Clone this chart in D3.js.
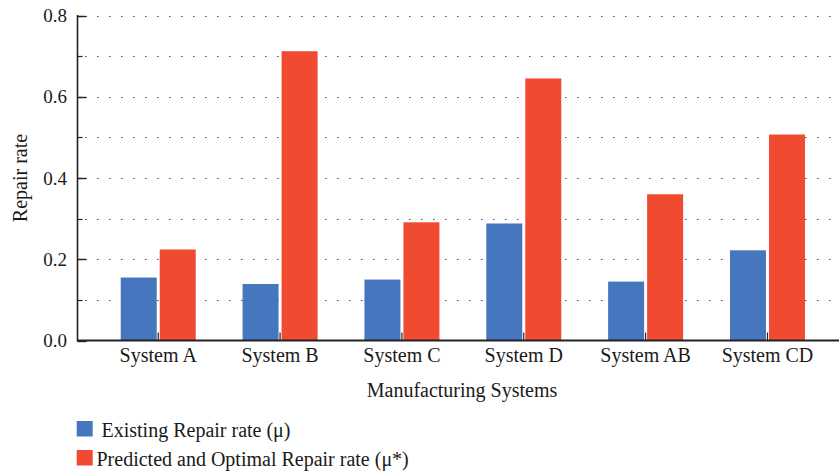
<!DOCTYPE html>
<html>
<head>
<meta charset="utf-8">
<script src="https://cdn.jsdelivr.net/npm/d3@7"></script>
<style>
  html, body { margin: 0; padding: 0; background: #fff; }
  svg { display: block; }
  text { font-family: "Liberation Serif", "DejaVu Serif", serif; fill: #1a1a1a; }
</style>
</head>
<body>
<svg id="chart" width="839" height="472"></svg>
<script>
const categories = ["System A", "System B", "System C", "System D", "System AB", "System CD"];
const seriesNames = ["Existing Repair rate (μ)", "Predicted and Optimal Repair rate (μ*)"];
const existing = [0.155, 0.139, 0.150, 0.288, 0.145, 0.222];
const optimal  = [0.224, 0.712, 0.291, 0.645, 0.360, 0.507];
const colors = ["#4677BE", "#F04A31"];
const majorTicks = [0.0, 0.2, 0.4, 0.6, 0.8];
const minorTicks = [0.1, 0.2, 0.3, 0.4, 0.5, 0.6, 0.7, 0.8];
const yLabel = "Repair rate";
const xLabel = "Manufacturing Systems";

const svg = d3.select("#chart");
const axisX = 77.5, axisY = 340.5;

const x = d3.scaleBand().domain(categories).range([97.3, 828.4]).padding(0);
const y = d3.scaleLinear().domain([0, 0.8]).range([340.5, 15.5]);
const xSub = d3.scaleBand().domain([0, 1]).range([-37.5, 37.5]).paddingInner(0.077);

// dotted gridlines
svg.append("g").selectAll("line").data(minorTicks).join("line")
  .attr("x1", 85.3).attr("x2", 834)
  .attr("y1", d => Math.round(y(d)) + 0.5).attr("y2", d => Math.round(y(d)) + 0.5)
  .attr("stroke", "#222").attr("stroke-width", 1.2)
  .attr("stroke-dasharray", "1.2,10.8");

// x category ticks (behind bars)
svg.append("g").selectAll("line").data(categories).join("line")
  .attr("x1", d => x(d) + x.bandwidth() / 2).attr("x2", d => x(d) + x.bandwidth() / 2)
  .attr("y1", axisY).attr("y2", axisY - 8)
  .attr("stroke", "#222").attr("stroke-width", 1.2);

// bars
const data = [existing, optimal];
const g = svg.append("g");
data.forEach((vals, si) => {
  g.selectAll(".bar" + si).data(vals).join("rect")
    .attr("class", "bar" + si)
    .attr("x", (d, i) => x(categories[i]) + x.bandwidth() / 2 + xSub(si))
    .attr("width", xSub.bandwidth())
    .attr("y", d => y(d))
    .attr("height", d => y(0) - y(d))
    .attr("fill", colors[si]);
});

// y axis minor ticks
svg.append("g").selectAll("line").data(minorTicks).join("line")
  .attr("x1", axisX).attr("x2", axisX + 5)
  .attr("y1", d => Math.round(y(d)) + 0.5).attr("y2", d => Math.round(y(d)) + 0.5)
  .attr("stroke", "#222").attr("stroke-width", 1.2);
// y axis major ticks
svg.append("g").selectAll("line").data(majorTicks).join("line")
  .attr("x1", axisX).attr("x2", axisX + 9)
  .attr("y1", d => Math.round(y(d)) + 0.5).attr("y2", d => Math.round(y(d)) + 0.5)
  .attr("stroke", "#222").attr("stroke-width", 1.4);
// tick labels
svg.append("g").selectAll("text").data(majorTicks).join("text")
  .attr("x", 67).attr("y", d => y(d) + 6.5)
  .attr("text-anchor", "end").attr("font-size", 19)
  .text(d => d3.format(".1f")(d));

// axis lines
svg.append("line").attr("x1", axisX).attr("x2", axisX).attr("y1", 15).attr("y2", axisY + 1)
  .attr("stroke", "#222").attr("stroke-width", 1.6);
svg.append("line").attr("x1", axisX).attr("x2", 839).attr("y1", axisY).attr("y2", axisY)
  .attr("stroke", "#222").attr("stroke-width", 1.8);

// x labels
svg.append("g").selectAll("text").data(categories).join("text")
  .attr("x", d => x(d) + x.bandwidth() / 2).attr("y", 362)
  .attr("text-anchor", "middle").attr("font-size", 20)
  .text(d => d);

svg.append("text").attr("x", 462).attr("y", 397)
  .attr("text-anchor", "middle").attr("font-size", 20).text(xLabel);

svg.append("text")
  .attr("transform", "translate(27,178) rotate(-90)")
  .attr("text-anchor", "middle").attr("font-size", 20).text(yLabel);

// legend
const legend = svg.append("g");
const legY = [421, 450];
const legTextX = [101.5, 96.5];
seriesNames.forEach((name, i) => {
  legend.append("rect").attr("x", 76.7).attr("y", legY[i]).attr("width", 16).attr("height", 15.5)
    .attr("fill", colors[i]);
  legend.append("text").attr("x", legTextX[i]).attr("y", legY[i] + 16)
    .attr("font-size", 20).text(name);
});
</script>
</body>
</html>
